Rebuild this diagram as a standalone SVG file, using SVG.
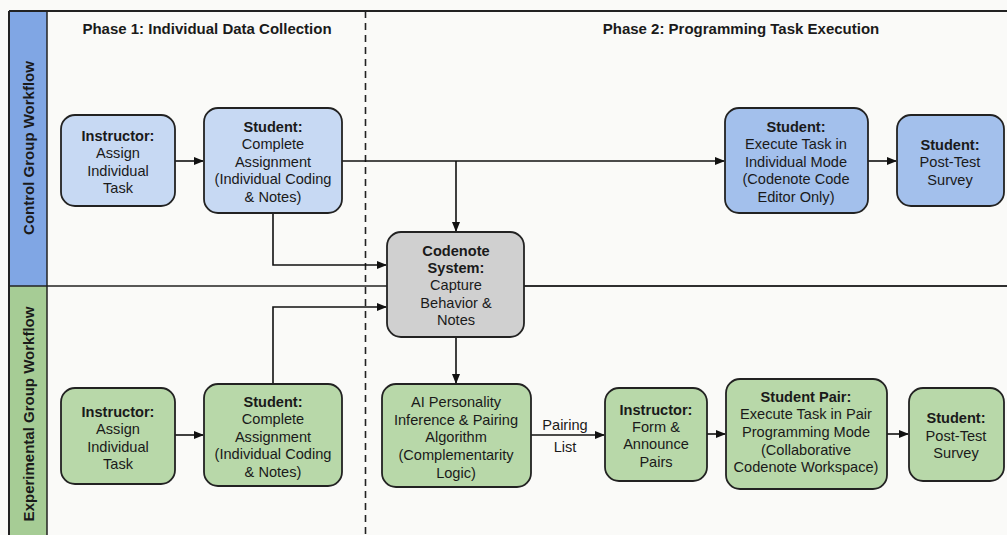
<svg xmlns="http://www.w3.org/2000/svg" width="1007" height="535" viewBox="0 0 1007 535">
<style>
text{font-family:"Liberation Sans",Arial,sans-serif;font-size:14.6px;fill:#1a1a1a;text-anchor:middle}
.b{font-weight:bold}
.title{font-weight:bold;font-size:15px}
.lane{font-weight:bold;font-size:15px}
.node{stroke:#222;stroke-width:1.8}
.lb{fill:#c7d9f3}
.db{fill:#a3c0ec}
.g{fill:#b8d8a9}
.gr{fill:#d0d0d0}
.c{fill:none;stroke:#111;stroke-width:1.6}
</style>
<defs>
<marker id="ah" viewBox="0 0 10 10" refX="9" refY="5" markerWidth="10" markerHeight="10" markerUnits="userSpaceOnUse" orient="auto">
<path d="M0,1 L10,5 L0,9 z" fill="#111"/>
</marker>
</defs>
<rect width="1007" height="535" fill="#fafaf8"/>
<g id="frame">
<rect x="9" y="11" width="38" height="275" fill="#80a6e4"/>
<rect x="9" y="286" width="38" height="249" fill="#a6cc95"/>
<line x1="9" y1="11" x2="1007" y2="11" stroke="#222" stroke-width="2"/>
<line x1="9" y1="11" x2="9" y2="535" stroke="#222" stroke-width="2"/>
<line x1="47" y1="11" x2="47" y2="535" stroke="#222" stroke-width="1.5"/>
<line x1="9" y1="286" x2="1007" y2="286" stroke="#222" stroke-width="1.6"/>
<line x1="365.5" y1="11" x2="365.5" y2="535" stroke="#222" stroke-width="1.6" stroke-dasharray="7,5"/>
<text class="lane" transform="translate(34,148) rotate(-90)">Control Group Workflow</text>
<text class="lane" transform="translate(34,414) rotate(-90)">Experimental Group Workflow</text>
<text class="title" x="207" y="34">Phase 1: Individual Data Collection</text>
<text class="title" x="741" y="34">Phase 2: Programming Task Execution</text>
</g>
<g id="connectors">
<line class="c" x1="175" y1="161" x2="203" y2="161" marker-end="url(#ah)"/>
<line class="c" x1="342" y1="161" x2="724" y2="161" marker-end="url(#ah)"/>
<line class="c" x1="456" y1="161" x2="456" y2="231" marker-end="url(#ah)"/>
<polyline class="c" points="273,213 273,265 386,265" marker-end="url(#ah)"/>
<line class="c" x1="868" y1="161" x2="896" y2="161" marker-end="url(#ah)"/>
<line class="c" x1="175" y1="435" x2="203" y2="435" marker-end="url(#ah)"/>
<polyline class="c" points="273,384 273,307 386,307" marker-end="url(#ah)"/>
<line class="c" x1="456" y1="337" x2="456" y2="383" marker-end="url(#ah)"/>
<line class="c" x1="531" y1="435" x2="604" y2="435" marker-end="url(#ah)"/>
<text x="565" y="430">Pairing</text>
<text x="565" y="452">List</text>
<line class="c" x1="707" y1="434" x2="725" y2="434" marker-end="url(#ah)"/>
<line class="c" x1="887" y1="434" x2="908" y2="434" marker-end="url(#ah)"/>
</g>
<g id="c-instructor">
<rect class="node lb" x="61" y="115" width="114" height="91" rx="14"/>
<text class="b" x="118" y="141">Instructor:</text>
<text x="118" y="158">Assign</text>
<text x="118" y="176">Individual</text>
<text x="118" y="193">Task</text>
</g>
<g id="c-student">
<rect class="node lb" x="204" y="108" width="138" height="105" rx="14"/>
<text class="b" x="273" y="132">Student:</text>
<text x="273" y="149">Complete</text>
<text x="273" y="167">Assignment</text>
<text x="273" y="184">(Individual Coding</text>
<text x="273" y="202">&amp; Notes)</text>
</g>
<g id="codenote">
<rect class="node gr" x="387" y="232" width="137" height="105" rx="14"/>
<text class="b" x="456" y="256">Codenote</text>
<text class="b" x="456" y="273">System:</text>
<text x="456" y="290">Capture</text>
<text x="456" y="308">Behavior &amp;</text>
<text x="456" y="325">Notes</text>
</g>
<line x1="524" y1="286" x2="1007" y2="286" stroke="#222" stroke-width="1.6"/>
<g id="c-execute">
<rect class="node db" x="725" y="108" width="143" height="105" rx="14"/>
<text class="b" x="796" y="132">Student:</text>
<text x="796" y="149">Execute Task in</text>
<text x="796" y="167">Individual Mode</text>
<text x="796" y="184">(Codenote Code</text>
<text x="796" y="202">Editor Only)</text>
</g>
<g id="c-survey">
<rect class="node db" x="897" y="115" width="107" height="91" rx="14"/>
<text class="b" x="950" y="150">Student:</text>
<text x="950" y="167">Post-Test</text>
<text x="950" y="185">Survey</text>
</g>
<g id="e-instructor">
<rect class="node g" x="61" y="388" width="114" height="96" rx="14"/>
<text class="b" x="118" y="417">Instructor:</text>
<text x="118" y="434">Assign</text>
<text x="118" y="452">Individual</text>
<text x="118" y="469">Task</text>
</g>
<g id="e-student">
<rect class="node g" x="204" y="384" width="138" height="102" rx="14"/>
<text class="b" x="273" y="407">Student:</text>
<text x="273" y="424">Complete</text>
<text x="273" y="442">Assignment</text>
<text x="273" y="459">(Individual Coding</text>
<text x="273" y="477">&amp; Notes)</text>
</g>
<g id="ai">
<rect class="node g" x="382" y="384" width="149" height="103" rx="14"/>
<text x="456" y="407">AI Personality</text>
<text x="456" y="425">Inference &amp; Pairing</text>
<text x="456" y="442">Algorithm</text>
<text x="456" y="460">(Complementarity</text>
<text x="456" y="478">Logic)</text>
</g>
<g id="e-form">
<rect class="node g" x="605" y="388" width="102" height="93" rx="14"/>
<text class="b" x="656" y="415">Instructor:</text>
<text x="656" y="432">Form &amp;</text>
<text x="656" y="449">Announce</text>
<text x="656" y="467">Pairs</text>
</g>
<g id="e-pair">
<rect class="node g" x="726" y="379" width="161" height="110" rx="14"/>
<text class="b" x="806" y="402">Student Pair:</text>
<text x="806" y="419">Execute Task in Pair</text>
<text x="806" y="437">Programming Mode</text>
<text x="806" y="455">(Collaborative</text>
<text x="806" y="472">Codenote Workspace)</text>
</g>
<g id="e-survey">
<rect class="node g" x="909" y="388" width="95" height="93" rx="14"/>
<text class="b" x="956" y="423">Student:</text>
<text x="956" y="441">Post-Test</text>
<text x="956" y="458">Survey</text>
</g>
</svg>
